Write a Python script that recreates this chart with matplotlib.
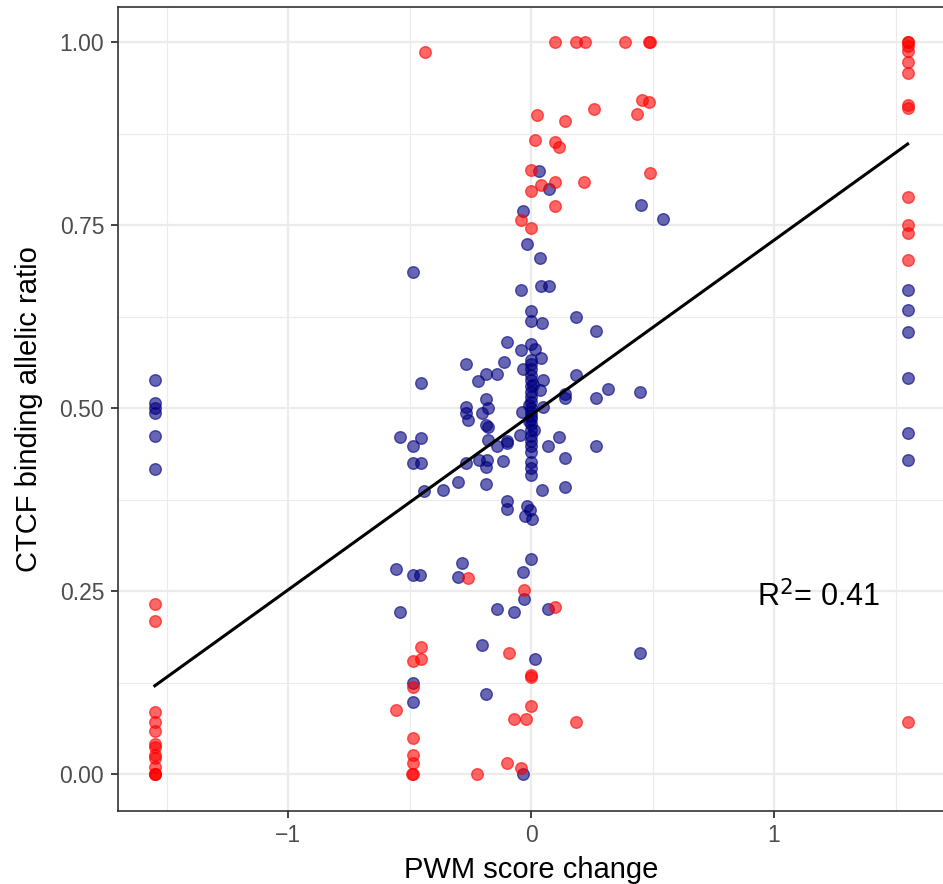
import matplotlib
matplotlib.use("Agg")
import matplotlib.pyplot as plt
import numpy as np

plt.rcParams['font.family'] = ['Liberation Sans', 'DejaVu Sans']

# Blue points (x = PWM score change, y = allelic ratio)
blue_x = [-1.55, -1.55, -1.55, -1.55, -1.55, -1.55,
          1.55, 1.55, 1.55, 1.55, 1.55, 1.55,
          0.030, 0.072, -0.032, 0.453, 0.542, -0.018, 0.037, -0.489, 0.041, 0.072, -0.043,
          0.0, 0.0, 0.044, 0.184, 0.268, -0.099, 0.0, -0.043, 0.017, 0.041, -0.268, -0.113,
          0.0, 0.0, 0.0, -0.032, -0.188, -0.140, -0.220, -0.455, 0.047, 0.184, 0.316, 0.449,
          0.137, 0.137, 0.268, 0.034, -0.188, -0.268, -0.180, -0.268, -0.203, -0.259, -0.039,
          0.047, -0.188, -0.180, -0.542, -0.455, -0.485, -0.180, -0.140, -0.101, -0.101,
          -0.046, 0.069, 0.116, 0.268, -0.485, -0.455, -0.268, -0.217, -0.182, -0.185,
          -0.115, 0.0, 0.0, 0.0, 0.137, -0.300, -0.365, -0.440, -0.185, 0.044, 0.137,
          -0.099, -0.099, -0.018, -0.004, -0.025, 0.005,
          0.0, 0.0, 0.0, 0.0, 0.0, 0.0, 0.0, 0.0, 0.0, 0.0, 0.0, 0.0, 0.0, 0.0, 0.0, 0.0,
          0.008, -0.008, 0.01, -0.01,
          -0.556, -0.485, -0.458, -0.286, -0.300, 0.0, -0.032, -0.029, -0.542, -0.140,
          -0.069, 0.069, -0.203, 0.015, -0.485, -0.185, -0.489, -0.032, 0.449]
blue_y = [0.538, 0.507, 0.500, 0.493, 0.462, 0.417,
          0.662, 0.634, 0.604, 0.542, 0.466, 0.430,
          0.824, 0.800, 0.769, 0.778, 0.759, 0.725, 0.705, 0.686, 0.667, 0.667, 0.661,
          0.633, 0.619, 0.616, 0.625, 0.605, 0.591, 0.588, 0.579, 0.581, 0.569, 0.560, 0.563,
          0.566, 0.560, 0.553, 0.553, 0.547, 0.547, 0.537, 0.535, 0.539, 0.546, 0.527, 0.522,
          0.519, 0.514, 0.514, 0.525, 0.513, 0.502, 0.500, 0.493, 0.493, 0.484, 0.495,
          0.502, 0.477, 0.474, 0.461, 0.460, 0.449, 0.457, 0.448, 0.456, 0.452,
          0.464, 0.449, 0.461, 0.448, 0.425, 0.425, 0.425, 0.430, 0.430, 0.420,
          0.428, 0.427, 0.418, 0.409, 0.432, 0.400, 0.389, 0.387, 0.396, 0.389, 0.393,
          0.373, 0.363, 0.366, 0.361, 0.353, 0.349,
          0.545, 0.538, 0.530, 0.522, 0.515, 0.508, 0.500, 0.495, 0.490, 0.485, 0.478,
          0.470, 0.462, 0.455, 0.448, 0.440,
          0.532, 0.505, 0.470, 0.482,
          0.281, 0.272, 0.272, 0.289, 0.270, 0.294, 0.276, 0.239, 0.222, 0.226,
          0.222, 0.226, 0.176, 0.158, 0.125, 0.110, 0.099, 0.0, 0.166]

# Red points
red_x = [-1.55, -1.55, -1.55, -1.55, -1.55, -1.55, -1.55, -1.55, -1.55, -1.55, -1.55, -1.55, -1.55,
         1.55, 1.55, 1.55, 1.55, 1.55, 1.55, 1.55, 1.55, 1.55, 1.55, 1.55, 1.55, 1.55,
         -0.437, 0.099, 0.185, 0.220, 0.387, 0.484, 0.491, 0.023, 0.137, 0.257, 0.456, 0.484,
         0.435, 0.015, 0.099, 0.116, 0.488, 0.0, 0.041, 0.099, 0.218, 0.0, 0.096, -0.043, 0.0,
         -0.259, -0.029, 0.099, -0.455, -0.485, -0.455, -0.090, 0.0, 0.0, -0.485, -0.556, 0.0,
         -0.073, -0.022, 0.184, -0.489, -0.485, -0.485, -0.490, -0.485, -0.101, -0.224, -0.041]
red_y = [0.233, 0.209, 0.085, 0.072, 0.059, 0.042, 0.038, 0.027, 0.022, 0.010, 0.0, 0.0, 0.0,
         1.0, 1.0, 0.995, 0.988, 0.973, 0.958, 0.914, 0.910, 0.788, 0.750, 0.740, 0.702, 0.071,
         0.987, 1.0, 1.0, 1.0, 1.0, 1.0, 1.0, 0.900, 0.893, 0.909, 0.921, 0.918,
         0.902, 0.867, 0.864, 0.857, 0.822, 0.826, 0.805, 0.809, 0.809, 0.797, 0.777, 0.757, 0.746,
         0.268, 0.252, 0.229, 0.174, 0.155, 0.157, 0.166, 0.135, 0.133, 0.119, 0.088, 0.093,
         0.076, 0.076, 0.071, 0.050, 0.026, 0.016, 0.0, 0.0, 0.016, 0.0, 0.008]

# Regression line endpoints
line_x = [-1.55, 1.55]
line_y = [0.121, 0.861]

x_ticks = [-1, 0, 1]
x_ticklabels = ["\u22121", "0", "1"]
y_ticks = [0.00, 0.25, 0.50, 0.75, 1.00]
y_ticklabels = ["0.00", "0.25", "0.50", "0.75", "1.00"]

W, H = 943, 884
fig = plt.figure(figsize=(W / 100, H / 100), dpi=100)
left_px, right_px, top_px, bottom_px = 117.7, 944.8, 6.7, 810.7
ax = fig.add_axes([left_px / W, 1 - bottom_px / H, (right_px - left_px) / W,
                   (bottom_px - top_px) / H])

ax.set_xlim(-1.703, 1.703)
ax.set_ylim(-0.0497, 1.0486)

ax.set_xticks(x_ticks)
ax.set_xticklabels(x_ticklabels)
ax.set_xticks([-1.5, -0.5, 0.5, 1.5], minor=True)
ax.set_yticks(y_ticks)
ax.set_yticklabels(y_ticklabels)
ax.set_yticks([0.125, 0.375, 0.625, 0.875], minor=True)

ax.grid(which='major', color='#EBEBEB', linewidth=1.6, zorder=0)
ax.grid(which='minor', color='#EBEBEB', linewidth=0.8, zorder=0)
ax.set_axisbelow(True)

ax.tick_params(which='major', direction='out', length=5, width=1.3, color='#333333',
               labelsize=16.5, labelcolor='#4D4D4D', pad=4.7)
ax.tick_params(which='minor', length=0)

for s in ax.spines.values():
    s.set_color('#333333')
    s.set_linewidth(1.2)

ax.scatter(blue_x, blue_y, s=70, c='#000080', alpha=0.6, edgecolors='#000080',
           linewidths=1.0, zorder=3)
ax.scatter(red_x, red_y, s=70, c='#FF0000', alpha=0.6, edgecolors='#FF0000',
           linewidths=1.0, zorder=3)
ax.plot(line_x, line_y, color='black', linewidth=2.2, zorder=4)

ax.text(0.9286, 0.229, r"R$^2$= 0.41", fontsize=22, ha='left', va='baseline', color='black')

ax.set_xlabel("PWM score change", fontsize=21, labelpad=6)
ax.set_ylabel("CTCF binding allelic ratio", fontsize=21, labelpad=12)

fig.savefig("out.png", dpi=100)
